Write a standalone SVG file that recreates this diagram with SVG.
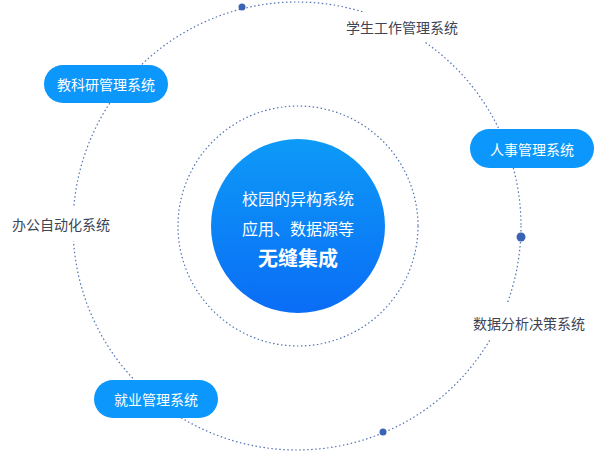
<svg xmlns="http://www.w3.org/2000/svg" width="599" height="451" viewBox="0 0 599 451">
<defs>
<linearGradient id="g" x1="0" y1="0" x2="0" y2="1">
<stop offset="0" stop-color="#0d9af7"/>
<stop offset="1" stop-color="#0a6df6"/>
</linearGradient>
<style>
.ring{fill:none;stroke:#5272b5;stroke-width:1.2;stroke-dasharray:1.5 2.5}
.pill{fill:#0b97fb}
.pt{fill:#fff;font-family:"Noto Sans CJK SC",sans-serif;font-size:14px;text-anchor:middle;dominant-baseline:central}
.lt{fill:#3c4455;font-family:"Noto Sans CJK SC",sans-serif;font-size:14px;text-anchor:middle;dominant-baseline:central}
.ct{fill:#fff;font-family:"Noto Sans CJK SC",sans-serif;font-size:16px;text-anchor:middle;dominant-baseline:central}
.dot{fill:#3a63b5}
.bg{fill:#fff}
</style>
</defs>
<rect width="599" height="451" fill="#fff"/>
<g id="connectors">
<circle class="ring" cx="297" cy="226" r="224"/>
<circle class="ring" cx="298" cy="226" r="120"/>
<circle class="dot" cx="242" cy="7" r="3.5"/>
<circle class="dot" cx="521" cy="237" r="4.5"/>
<circle class="dot" cx="383" cy="432" r="3.5"/>
</g>
<g id="center">
<circle cx="298" cy="226" r="87" fill="url(#g)"/>
<text class="ct" x="298" y="198">校园的异构系统</text>
<text class="ct" x="298" y="228">应用、数据源等</text>
<text class="ct" x="298" y="257" style="font-size:20px;font-weight:bold">无缝集成</text>
</g>
<g id="n-jky">
<rect class="pill" x="44" y="65" width="124" height="38" rx="19"/>
<text class="pt" x="106" y="84">教科研管理系统</text>
</g>
<g id="n-rs">
<rect class="pill" x="470" y="129" width="124" height="39" rx="19.5"/>
<text class="pt" x="532" y="148.5">人事管理系统</text>
</g>
<g id="n-jy">
<rect class="pill" x="94" y="380" width="124" height="38" rx="19"/>
<text class="pt" x="156" y="399">就业管理系统</text>
</g>
<g id="n-xs">
<rect class="bg" x="342" y="12" width="120" height="30"/>
<text class="lt" x="402" y="27">学生工作管理系统</text>
</g>
<g id="n-bg">
<rect class="bg" x="8" y="207" width="106" height="34"/>
<text class="lt" x="61" y="224">办公自动化系统</text>
</g>
<g id="n-sj">
<rect class="bg" x="468" y="304" width="122" height="36"/>
<text class="lt" x="529" y="323">数据分析决策系统</text>
</g>
</svg>
